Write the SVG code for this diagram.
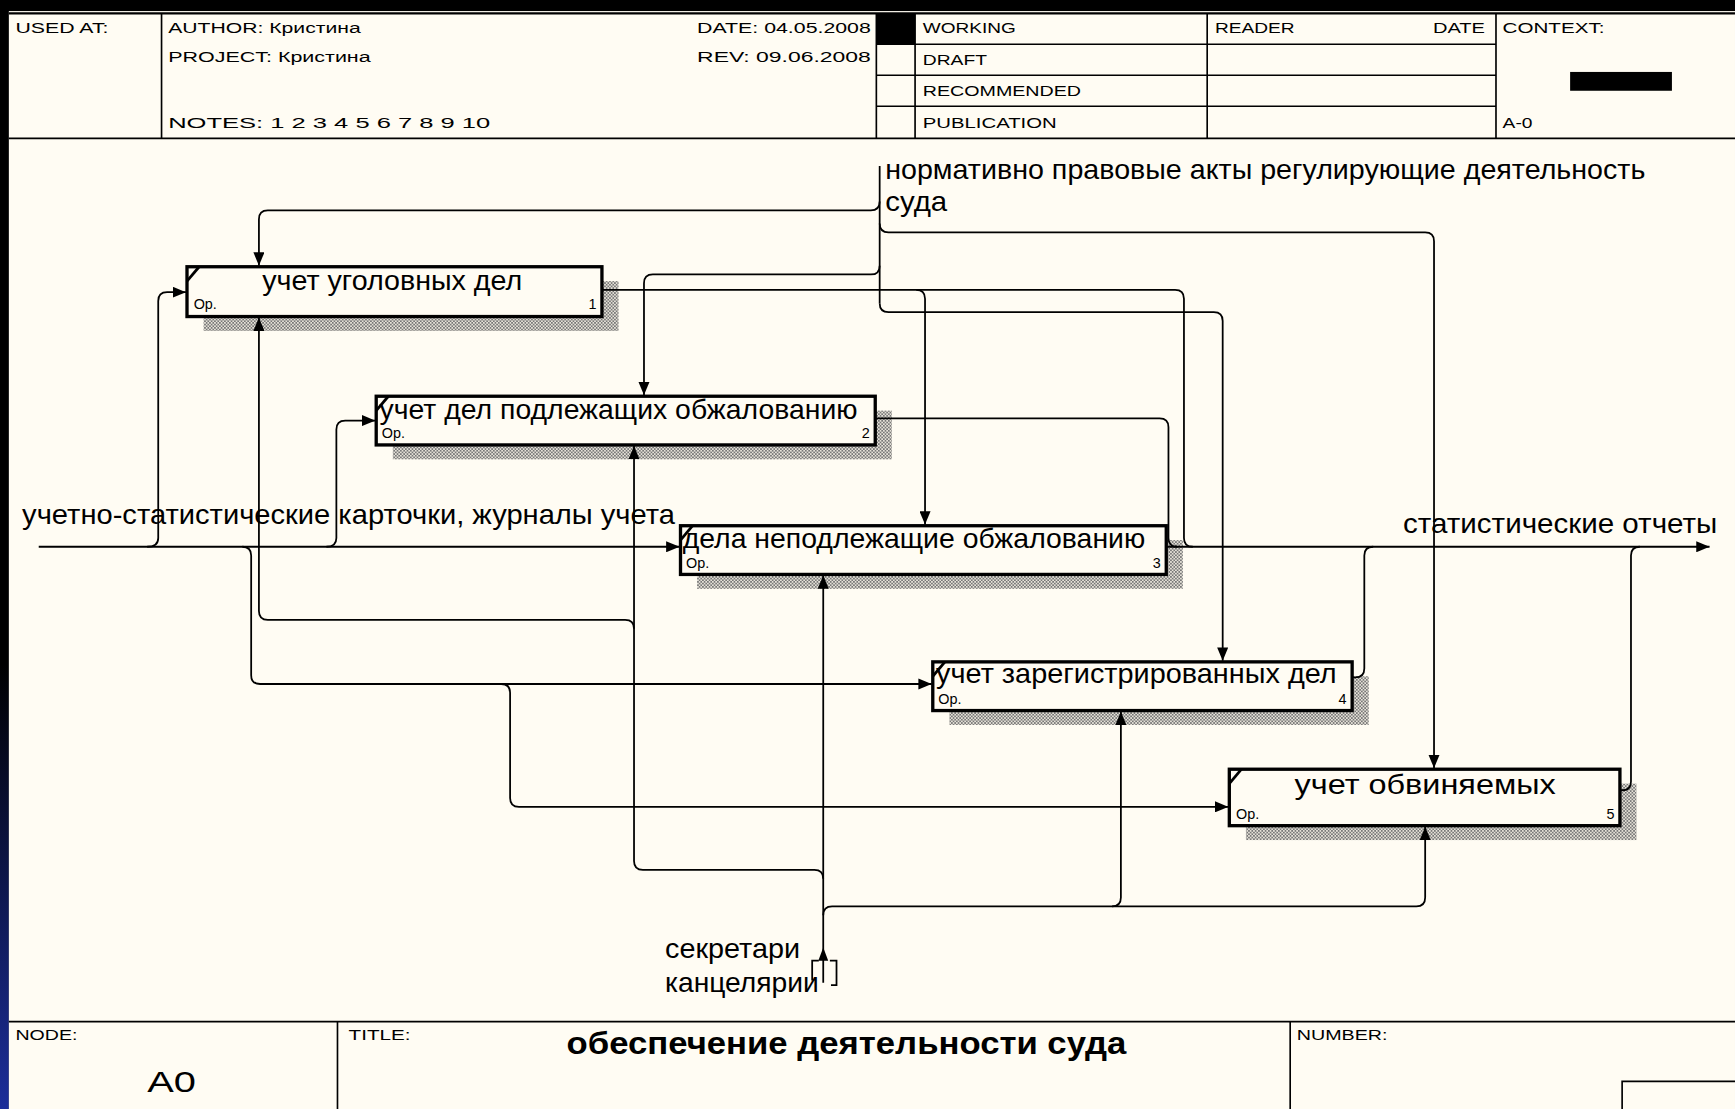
<svg xmlns="http://www.w3.org/2000/svg" width="1735" height="1109" viewBox="0 0 1735 1109">
<defs>
<style>
.c{fill:none;stroke:#000;stroke-width:1.6}
.a{marker-end:url(#ah)}
.box{fill:#fffcf3;stroke:#000;stroke-width:3}
.sh{fill:url(#hatch)}
.hl{stroke:#000;stroke-width:1.5;fill:none}
.t{font-family:"Liberation Sans",Arial,sans-serif;fill:#000}
.lbl{font-size:25px}
.hd{font-size:13.5px}
.sm{font-size:13px}
</style>
<marker id="ah" markerUnits="userSpaceOnUse" markerWidth="12" markerHeight="10" refX="12" refY="5" orient="auto">
<path d="M0,0 L12,5 L0,10 Z" fill="#000"/>
</marker>
<pattern id="hatch" patternUnits="userSpaceOnUse" width="3" height="3">
<rect x="0" y="0" width="3" height="3" fill="#e6e2d8"/>
<rect x="0" y="0" width="1.5" height="1.5" fill="#777"/>
<rect x="1.5" y="1.5" width="1.5" height="1.5" fill="#777"/>
</pattern>
<linearGradient id="lg" x1="0" y1="0" x2="0" y2="1">
<stop offset="0" stop-color="#000"/>
<stop offset="1" stop-color="#1c2e9a"/>
</linearGradient>
</defs>
<rect x="0" y="0" width="1735" height="1109" fill="#000"/>
<g transform="scale(1.1065 1.1068)">
<rect x="0" y="600" width="8" height="402" fill="url(#lg)"/>
<rect x="8" y="10" width="1560" height="992" fill="#fffcf3"/>

<g id="header">
<line class="hl" x1="8" y1="12" x2="1568" y2="12" style="stroke-width:2"/>
<line class="hl" x1="8" y1="125" x2="1568" y2="125"/>
<line class="hl" x1="146" y1="12" x2="146" y2="125"/>
<line class="hl" x1="792" y1="12" x2="792" y2="125"/>
<line class="hl" x1="827" y1="12" x2="827" y2="125"/>
<line class="hl" x1="1091" y1="12" x2="1091" y2="125"/>
<line class="hl" x1="1352" y1="12" x2="1352" y2="125"/>
<line class="hl" x1="792" y1="40" x2="1352" y2="40"/>
<line class="hl" x1="792" y1="68" x2="1352" y2="68"/>
<line class="hl" x1="792" y1="96" x2="1352" y2="96"/>
<rect x="792" y="12" width="35" height="28" fill="#000"/>
<rect x="1419" y="65" width="92" height="17" fill="#000"/>
<text class="t hd" x="14" y="30" textLength="84" lengthAdjust="spacingAndGlyphs">USED AT:</text>
<text class="t hd" x="152" y="30" textLength="174" lengthAdjust="spacingAndGlyphs">AUTHOR:  Кристина</text>
<text class="t hd" x="152" y="56" textLength="183" lengthAdjust="spacingAndGlyphs">PROJECT:  Кристина</text>
<text class="t hd" x="152" y="116" textLength="291" lengthAdjust="spacingAndGlyphs">NOTES:  1  2  3  4  5  6  7  8  9  10</text>
<text class="t hd" x="630" y="30" textLength="157" lengthAdjust="spacingAndGlyphs">DATE: 04.05.2008</text>
<text class="t hd" x="630" y="56" textLength="157" lengthAdjust="spacingAndGlyphs">REV:    09.06.2008</text>
<text class="t hd" x="834" y="30" textLength="84" lengthAdjust="spacingAndGlyphs">WORKING</text>
<text class="t hd" x="834" y="59" textLength="58" lengthAdjust="spacingAndGlyphs">DRAFT</text>
<text class="t hd" x="834" y="87" textLength="143" lengthAdjust="spacingAndGlyphs">RECOMMENDED</text>
<text class="t hd" x="834" y="116" textLength="121" lengthAdjust="spacingAndGlyphs">PUBLICATION</text>
<text class="t hd" x="1098" y="30" textLength="72" lengthAdjust="spacingAndGlyphs">READER</text>
<text class="t hd" x="1295" y="30" textLength="47" lengthAdjust="spacingAndGlyphs">DATE</text>
<text class="t hd" x="1358" y="30" textLength="92" lengthAdjust="spacingAndGlyphs">CONTEXT:</text>
<text class="t hd" x="1358" y="116" textLength="27" lengthAdjust="spacingAndGlyphs">A-0</text>
</g>

<g id="footer">
<line class="hl" x1="8" y1="923" x2="1568" y2="923"/>
<line class="hl" x1="305" y1="923" x2="305" y2="1002"/>
<line class="hl" x1="1166" y1="923" x2="1166" y2="1002"/>
<path class="hl" d="M1466 1002 V977 H1568"/>
<text class="t hd" x="14" y="940" textLength="56" lengthAdjust="spacingAndGlyphs">NODE:</text>
<text class="t" x="133" y="987" font-size="27" textLength="44" lengthAdjust="spacingAndGlyphs">A0</text>
<text class="t hd" x="315" y="940" textLength="56" lengthAdjust="spacingAndGlyphs">TITLE:</text>
<text class="t" x="512" y="952" font-size="28" font-weight="bold" textLength="506" lengthAdjust="spacingAndGlyphs">обеспечение деятельности суда</text>
<text class="t hd" x="1172" y="940" textLength="82" lengthAdjust="spacingAndGlyphs">NUMBER:</text>
</g>

<g id="node-1">
<rect class="sh" x="184" y="254" width="375" height="45"/>
<rect class="box" x="169" y="241" width="375" height="45"/>
<line x1="169" y1="254" x2="180" y2="241" stroke="#000" stroke-width="2.5"/>
<text class="t lbl" x="237" y="262" textLength="235" lengthAdjust="spacingAndGlyphs">учет уголовных дел</text>
<text class="t sm" x="175" y="279">Ор.</text>
<text class="t sm" x="539" y="279" text-anchor="end">1</text>
</g>
<g id="node-2">
<rect class="sh" x="355" y="371" width="451" height="44"/>
<rect class="box" x="340" y="358" width="451" height="44"/>
<line x1="340" y1="371" x2="351" y2="358" stroke="#000" stroke-width="2.5"/>
<text class="t lbl" x="343" y="379" textLength="432" lengthAdjust="spacingAndGlyphs">учет дел подлежащих обжалованию</text>
<text class="t sm" x="345" y="396">Ор.</text>
<text class="t sm" x="786" y="396" text-anchor="end">2</text>
</g>
<g id="node-3">
<rect class="sh" x="630" y="488" width="439" height="44"/>
<rect class="box" x="615" y="475" width="439" height="44"/>
<line x1="615" y1="488" x2="626" y2="475" stroke="#000" stroke-width="2.5"/>
<text class="t lbl" x="617" y="495" textLength="418" lengthAdjust="spacingAndGlyphs">дела неподлежащие обжалованию</text>
<text class="t sm" x="620" y="513">Ор.</text>
<text class="t sm" x="1049" y="513" text-anchor="end">3</text>
</g>
<g id="node-4">
<rect class="sh" x="858" y="611" width="379" height="44"/>
<rect class="box" x="843" y="598" width="379" height="44"/>
<line x1="843" y1="611" x2="854" y2="598" stroke="#000" stroke-width="2.5"/>
<text class="t lbl" x="846" y="617" textLength="362" lengthAdjust="spacingAndGlyphs">учет зарегистрированных дел</text>
<text class="t sm" x="848" y="636">Ор.</text>
<text class="t sm" x="1217" y="636" text-anchor="end">4</text>
</g>
<g id="node-5">
<rect class="sh" x="1126" y="708" width="353" height="51"/>
<rect class="box" x="1111" y="695" width="353" height="51"/>
<line x1="1111" y1="708" x2="1122" y2="695" stroke="#000" stroke-width="2.5"/>
<text class="t lbl" x="1170" y="717" textLength="236" lengthAdjust="spacingAndGlyphs">учет обвиняемых</text>
<text class="t sm" x="1117" y="740">Ор.</text>
<text class="t sm" x="1459" y="740" text-anchor="end">5</text>
</g>

<g id="connectors">
<path class="c a" d="M35 494 H614"/>
<path class="c a" d="M133 494 Q143 494 143 486 V272 Q143 264 151 264 H168"/>
<path class="c a" d="M295 494 Q304 494 304 486 V388 Q304 380 312 380 H339"/>
<path class="c a" d="M219 494 Q227 494 227 502 V610 Q227 618 235 618 H842"/>
<path class="c a" d="M453 618 Q461 618 461 626 V721 Q461 729 469 729 H1110"/>
<path class="c" d="M795 150 V274"/>
<path class="c a" d="M795 182 Q795 190 787 190 H242 Q234 190 234 198 V240"/>
<path class="c a" d="M795 202 Q795 210 803 210 H1288 Q1296 210 1296 218 V694"/>
<path class="c a" d="M795 240 Q795 248 787 248 H590 Q582 248 582 256 V357"/>
<path class="c a" d="M795 274 Q795 282 803 282 H1097 Q1105 282 1105 290 V597"/>
<path class="c" d="M544 262 H1062 Q1070 262 1070 270 V486 Q1070 494 1078 494"/>
<path class="c a" d="M828 262 Q836 262 836 270 V474"/>
<path class="c" d="M791 378 H1048 Q1056 378 1056 386 V486 Q1056 494 1064 494"/>
<path class="c a" d="M1054 494 H1545"/>
<path class="c" d="M1222 612 H1225 Q1233 612 1233 604 V502 Q1233 494 1241 494"/>
<path class="c" d="M1464 714 H1466 Q1474 714 1474 706 V502 Q1474 494 1482 494"/>
<path class="c a" d="M744 888 V520"/>
<polygon points="744,856 739.5,868 748.5,868" fill="#000"/>
<path class="c" d="M740 868 H734 V886 M750 868 H756 V890 H751"/>
<path class="c a" d="M744 794 Q744 786 736 786 H581 Q573 786 573 778 V403"/>
<path class="c a" d="M573 568 Q573 560 565 560 H242 Q234 560 234 552 V287"/>
<path class="c a" d="M744 827 Q744 819 752 819 H1005 Q1013 819 1013 811 V643"/>
<path class="c a" d="M1005 819 H1280 Q1288 819 1288 811 V747"/>
</g>

<g id="labels">
<text class="t lbl" x="800" y="162" textLength="687" lengthAdjust="spacingAndGlyphs">нормативно правовые акты регулирующие деятельность</text>
<text class="t lbl" x="800" y="191" textLength="56" lengthAdjust="spacingAndGlyphs">суда</text>
<text class="t lbl" x="20" y="473" textLength="590" lengthAdjust="spacingAndGlyphs">учетно-статистические карточки, журналы учета</text>
<text class="t lbl" x="1268" y="482" textLength="284" lengthAdjust="spacingAndGlyphs">статистические отчеты</text>
<text class="t lbl" x="601" y="866" textLength="122" lengthAdjust="spacingAndGlyphs">секретари</text>
<text class="t lbl" x="601" y="896" textLength="139" lengthAdjust="spacingAndGlyphs">канцелярии</text>
</g>
</g>
</svg>
